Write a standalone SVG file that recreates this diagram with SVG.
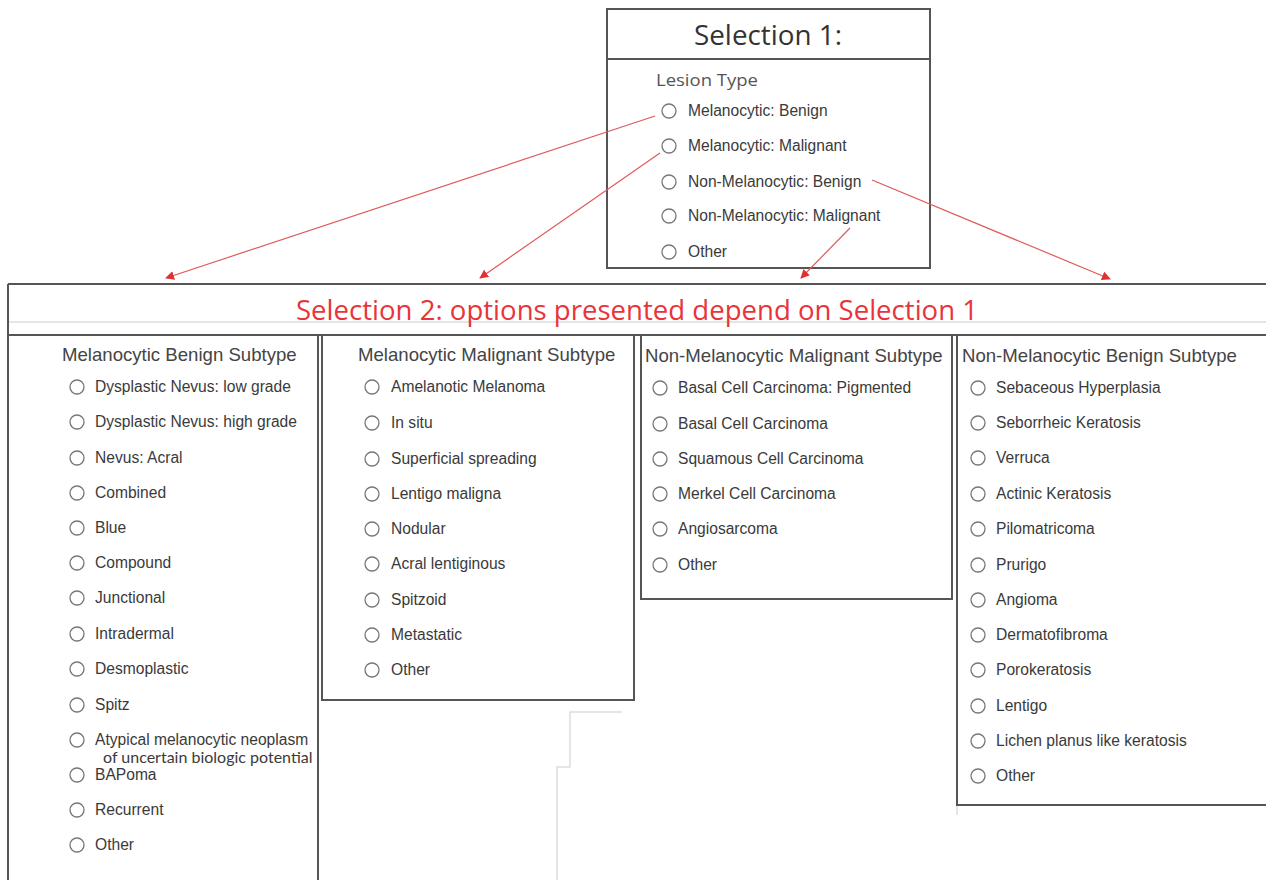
<svg xmlns="http://www.w3.org/2000/svg" width="1266" height="880" viewBox="0 0 1266 880">
<defs>
<style>
.box{fill:#fff;stroke:#555;stroke-width:2}
.line{stroke:#555;stroke-width:2;fill:none}
.faint{stroke:#ddd;stroke-width:1.5;fill:none}
.rb{fill:#fff;stroke:#777;stroke-width:1.3}
.it{font-family:"Liberation Sans",Arial,sans-serif;font-size:15.6px;fill:#3a3a3a}
.hd{font-family:"Liberation Sans",Arial,sans-serif;font-size:18.6px;fill:#444}
.conn{stroke:#e05a5a;stroke-width:1.2;fill:none;marker-end:url(#ah)}
</style>
<marker id="ah" viewBox="0 0 10 10" refX="9" refY="5" markerWidth="9" markerHeight="9" orient="auto" markerUnits="userSpaceOnUse">
<path d="M0,0 L10,5 L0,10 z" fill="#e03030"/>
</marker>
</defs>
<rect width="1266" height="880" fill="#fff"/>

<g id="selection1">
<rect class="box" x="607" y="9" width="323" height="259"/>
<line class="line" x1="607" y1="59" x2="930" y2="59"/>
<text x="768" y="45" text-anchor="middle" font-family="'Open Sans','Noto Sans',sans-serif" font-size="28" fill="#333" textLength="148" lengthAdjust="spacingAndGlyphs">Selection 1:</text>
<text x="656" y="86" font-family="'Open Sans','Noto Sans',sans-serif" font-size="17" fill="#555" textLength="102" lengthAdjust="spacingAndGlyphs">Lesion Type</text>
<circle class="rb" cx="669" cy="111" r="7"/><text class="it" x="688" y="116">Melanocytic: Benign</text>
<circle class="rb" cx="669" cy="146" r="7"/><text class="it" x="688" y="151">Melanocytic: Malignant</text>
<circle class="rb" cx="669" cy="182" r="7"/><text class="it" x="688" y="187">Non-Melanocytic: Benign</text>
<circle class="rb" cx="669" cy="216" r="7"/><text class="it" x="688" y="221">Non-Melanocytic: Malignant</text>
<circle class="rb" cx="669" cy="252" r="7"/><text class="it" x="688" y="257">Other</text>
</g>

<g id="selection2-header">
<line class="line" x1="8" y1="284" x2="1266" y2="284"/>
<line class="line" x1="8" y1="284" x2="8" y2="880"/>
<line class="faint" x1="9" y1="322" x2="1266" y2="322"/>
<line class="line" x1="8" y1="335" x2="1266" y2="335"/>
<text x="637" y="320" text-anchor="middle" font-family="'Open Sans','Noto Sans',sans-serif" font-size="27" fill="#e8343a" textLength="682" lengthAdjust="spacingAndGlyphs">Selection 2: options presented depend on Selection 1</text>
</g>

<g id="melanocytic-benign">
<path class="line" d="M8,335 V880 M318,335 V880"/>
<text class="hd" x="62" y="361">Melanocytic Benign Subtype</text>
<circle class="rb" cx="77" cy="387" r="7"/><text class="it" x="95" y="392">Dysplastic Nevus: low grade</text>
<circle class="rb" cx="77" cy="422" r="7"/><text class="it" x="95" y="427">Dysplastic Nevus: high grade</text>
<circle class="rb" cx="77" cy="458" r="7"/><text class="it" x="95" y="463">Nevus: Acral</text>
<circle class="rb" cx="77" cy="493" r="7"/><text class="it" x="95" y="498">Combined</text>
<circle class="rb" cx="77" cy="528" r="7"/><text class="it" x="95" y="533">Blue</text>
<circle class="rb" cx="77" cy="563" r="7"/><text class="it" x="95" y="568">Compound</text>
<circle class="rb" cx="77" cy="598" r="7"/><text class="it" x="95" y="603">Junctional</text>
<circle class="rb" cx="77" cy="634" r="7"/><text class="it" x="95" y="639">Intradermal</text>
<circle class="rb" cx="77" cy="669" r="7"/><text class="it" x="95" y="674">Desmoplastic</text>
<circle class="rb" cx="77" cy="705" r="7"/><text class="it" x="95" y="710">Spitz</text>
<circle class="rb" cx="77" cy="740" r="7"/><text class="it" x="95" y="745">Atypical melanocytic neoplasm</text>
<text x="103" y="763" font-family="Lato,'Liberation Sans',sans-serif" font-size="16" fill="#3a3a3a">of uncertain biologic potential</text>
<circle class="rb" cx="77" cy="775" r="7"/><text class="it" x="95" y="780">BAPoma</text>
<circle class="rb" cx="77" cy="810" r="7"/><text class="it" x="95" y="815">Recurrent</text>
<circle class="rb" cx="77" cy="845" r="7"/><text class="it" x="95" y="850">Other</text>
</g>

<g id="melanocytic-malignant">
<rect class="box" x="322" y="335" width="312" height="365"/>
<text class="hd" x="358" y="361">Melanocytic Malignant Subtype</text>
<circle class="rb" cx="372" cy="387" r="7"/><text class="it" x="391" y="392">Amelanotic Melanoma</text>
<circle class="rb" cx="372" cy="423" r="7"/><text class="it" x="391" y="428">In situ</text>
<circle class="rb" cx="372" cy="459" r="7"/><text class="it" x="391" y="464">Superficial spreading</text>
<circle class="rb" cx="372" cy="494" r="7"/><text class="it" x="391" y="499">Lentigo maligna</text>
<circle class="rb" cx="372" cy="529" r="7"/><text class="it" x="391" y="534">Nodular</text>
<circle class="rb" cx="372" cy="564" r="7"/><text class="it" x="391" y="569">Acral lentiginous</text>
<circle class="rb" cx="372" cy="600" r="7"/><text class="it" x="391" y="605">Spitzoid</text>
<circle class="rb" cx="372" cy="635" r="7"/><text class="it" x="391" y="640">Metastatic</text>
<circle class="rb" cx="372" cy="670" r="7"/><text class="it" x="391" y="675">Other</text>
</g>

<g id="non-melanocytic-malignant">
<rect class="box" x="641" y="335" width="311" height="264"/>
<text class="hd" x="645" y="362">Non-Melanocytic Malignant Subtype</text>
<circle class="rb" cx="660" cy="388" r="7"/><text class="it" x="678" y="393">Basal Cell Carcinoma: Pigmented</text>
<circle class="rb" cx="660" cy="424" r="7"/><text class="it" x="678" y="429">Basal Cell Carcinoma</text>
<circle class="rb" cx="660" cy="459" r="7"/><text class="it" x="678" y="464">Squamous Cell Carcinoma</text>
<circle class="rb" cx="660" cy="494" r="7"/><text class="it" x="678" y="499">Merkel Cell Carcinoma</text>
<circle class="rb" cx="660" cy="529" r="7"/><text class="it" x="678" y="534">Angiosarcoma</text>
<circle class="rb" cx="660" cy="565" r="7"/><text class="it" x="678" y="570">Other</text>
</g>

<g id="non-melanocytic-benign">
<path class="line" d="M1266,335 H957 V805 H1266"/>
<text class="hd" x="962" y="362">Non-Melanocytic Benign Subtype</text>
<circle class="rb" cx="978" cy="388" r="7"/><text class="it" x="996" y="393">Sebaceous Hyperplasia</text>
<circle class="rb" cx="978" cy="423" r="7"/><text class="it" x="996" y="428">Seborrheic Keratosis</text>
<circle class="rb" cx="978" cy="458" r="7"/><text class="it" x="996" y="463">Verruca</text>
<circle class="rb" cx="978" cy="494" r="7"/><text class="it" x="996" y="499">Actinic Keratosis</text>
<circle class="rb" cx="978" cy="529" r="7"/><text class="it" x="996" y="534">Pilomatricoma</text>
<circle class="rb" cx="978" cy="565" r="7"/><text class="it" x="996" y="570">Prurigo</text>
<circle class="rb" cx="978" cy="600" r="7"/><text class="it" x="996" y="605">Angioma</text>
<circle class="rb" cx="978" cy="635" r="7"/><text class="it" x="996" y="640">Dermatofibroma</text>
<circle class="rb" cx="978" cy="670" r="7"/><text class="it" x="996" y="675">Porokeratosis</text>
<circle class="rb" cx="978" cy="706" r="7"/><text class="it" x="996" y="711">Lentigo</text>
<circle class="rb" cx="978" cy="741" r="7"/><text class="it" x="996" y="746">Lichen planus like keratosis</text>
<circle class="rb" cx="978" cy="776" r="7"/><text class="it" x="996" y="781">Other</text>
</g>

<g id="faint-marks">
<path class="faint" d="M622,712 H570 V767 H557 V880"/>
<path class="faint" d="M957,806 V815"/>
</g>

<g id="connectors">
<line class="conn" x1="655" y1="116" x2="166" y2="278"/>
<line class="conn" x1="660" y1="153" x2="480" y2="278"/>
<line class="conn" x1="850" y1="228" x2="801" y2="278"/>
<line class="conn" x1="872" y1="180" x2="1110" y2="279"/>
</g>
</svg>
